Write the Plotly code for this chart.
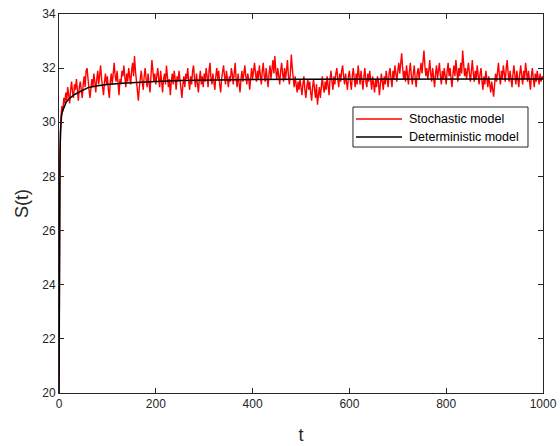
import plotly.graph_objects as go

# Deterministic model S(t)
t_det = [0, 0.5, 1, 1.5, 2, 3, 4, 5, 7, 10, 15, 20, 30, 40, 60, 80, 100, 130, 160, 200, 250, 300, 400, 500, 700, 1000]
s_det = [20, 23.5, 26.0, 27.6, 28.6, 29.6, 30.0, 30.2, 30.4, 30.55, 30.75, 30.85, 31.0, 31.1, 31.28, 31.35, 31.4, 31.44, 31.48, 31.51, 31.54, 31.56, 31.58, 31.59, 31.6, 31.6]

# Stochastic model S(t), sampled every 2 time units (read approximately)
s_sto = [
    20.0, 28.8, 30.2, 30.6, 30.4, 30.9, 30.7, 31.1, 30.8, 31.3, 31.0, 30.7, 31.2, 31.5, 31.1, 30.9, 31.4, 31.2, 31.6, 31.0, 30.8, 31.3, 31.5, 31.2, 30.9,
    31.4, 31.7, 31.3, 31.9, 32.0, 31.5, 31.2, 30.9, 31.4, 31.6, 31.3, 31.8, 31.5, 31.1, 31.6, 31.9, 31.4, 31.7, 32.1, 31.6, 31.3, 31.0, 31.5, 31.8, 31.4,
    31.7, 31.2, 30.9, 31.5, 31.8, 31.4, 32.0, 32.2, 31.7, 31.5, 31.9, 31.3, 31.0, 31.6, 31.4, 31.9, 31.7, 32.1, 31.6, 31.3, 31.8, 31.5, 32.0, 31.7, 31.4,
    31.9, 32.2, 31.7, 32.45, 31.9, 31.5, 31.2, 30.8, 31.3, 31.6, 31.9, 31.5, 31.2, 31.7, 32.0, 31.6, 31.3, 31.8, 31.4, 31.1, 31.7, 32.3, 31.9, 31.5, 31.8,
    31.4, 31.7, 32.0, 31.6, 31.3, 31.9, 31.5, 31.1, 31.6, 31.8, 31.4, 32.1, 31.7, 31.3, 31.6, 31.0, 31.5, 31.8, 31.4, 31.9, 31.6, 31.2, 31.7, 31.5, 31.9,
    31.5, 31.2, 30.9, 31.4, 31.7, 31.3, 31.8, 31.6, 32.0, 31.5, 31.2, 31.7, 31.4, 31.9, 32.1, 31.6, 31.3, 31.8, 31.5, 31.1, 31.6, 31.9, 31.4, 31.7, 31.3,
    31.8, 31.5, 32.0, 31.7, 31.3, 31.9, 32.2, 31.6, 31.4, 31.8, 31.5, 31.2, 31.7, 32.0, 31.6, 31.9, 31.4, 31.1, 31.6, 31.8, 32.1, 31.7, 31.4, 31.9, 31.6,
    31.3, 31.7, 31.5, 32.0, 31.8, 31.4, 31.9, 32.2, 31.6, 31.3, 31.8, 31.5, 31.1, 31.6, 31.9, 31.5, 31.8, 32.1, 31.7, 31.4, 31.8, 31.6, 31.2, 31.7, 32.0,
    31.6, 31.9, 32.2, 31.8, 31.5, 31.9, 31.6, 32.1, 31.8, 31.4, 31.9, 32.2, 31.7, 31.5, 32.0, 31.7, 31.3, 31.8, 32.1, 31.6, 31.9, 32.3, 31.8, 32.45, 31.9,
    31.6, 32.0, 31.7, 31.4, 31.9, 32.2, 31.8, 31.5, 32.0, 31.6, 31.9, 32.3, 31.7, 31.4, 31.8, 32.5, 32.0, 31.6, 31.3, 31.7, 31.4, 31.1, 31.5, 31.2, 31.6,
    31.3, 31.0, 31.4, 31.7, 31.2, 30.9, 31.3, 31.6, 31.2, 31.5, 31.1, 30.8, 31.3, 31.6, 31.2, 30.9, 31.4, 30.65, 31.0, 31.3, 30.9, 31.4, 31.7, 31.3, 31.1,
    31.5, 31.2, 31.7, 31.4, 31.0, 31.6, 31.9, 31.5, 31.2, 31.7, 31.4, 31.8, 32.0, 31.6, 31.3, 31.8, 31.5, 31.9, 32.1, 31.7, 31.4, 31.8, 31.5, 31.2, 31.7,
    31.9, 31.5, 31.2, 31.7, 32.0, 31.6, 31.3, 31.8, 31.4, 32.1, 31.7, 31.4, 31.9, 31.6, 31.2, 31.7, 32.0, 31.5, 31.3, 31.8, 31.5, 31.9, 31.6, 31.2, 31.7,
    31.4, 31.1, 31.6, 31.3, 31.7, 31.5, 31.0, 31.4, 31.8, 31.5, 31.2, 31.7, 31.4, 31.9, 31.6, 31.3, 31.8, 32.0, 31.6, 31.3, 31.9, 31.6, 32.1, 31.8, 31.5,
    31.9, 32.2, 31.8, 32.3, 32.55, 32.0, 31.6, 31.9, 31.5, 32.1, 31.8, 31.4, 31.9, 32.2, 31.7, 31.4, 31.8, 32.1, 31.6, 31.3, 31.8, 32.0, 31.6, 31.9, 32.2,
    31.8, 32.3, 32.65, 32.1, 31.7, 32.0, 31.6, 31.9, 32.3, 31.8, 31.5, 32.0, 31.7, 31.3, 31.8, 32.1, 31.6, 31.9, 32.2, 31.7, 31.4, 31.9, 31.6, 32.0, 31.7,
    31.4, 31.9, 32.2, 31.7, 32.0, 31.6, 31.3, 31.8, 32.1, 31.7, 32.3, 31.9, 31.5, 32.0, 31.7, 32.2, 31.8, 32.65, 32.1, 31.7, 32.0, 31.6, 31.9, 32.2, 31.8,
    31.5, 31.9, 32.3, 31.8, 31.5, 31.9, 31.6, 32.1, 31.7, 31.4, 31.8, 32.0, 31.5, 31.2, 31.7, 31.4, 31.9, 31.6, 31.3, 31.7, 31.4, 31.1, 31.5, 31.2, 30.95,
    31.4, 31.8, 31.5, 31.9, 32.2, 31.7, 31.4, 31.9, 31.6, 32.1, 31.8, 31.5, 32.0, 32.3, 31.8, 31.5, 31.9, 31.6, 31.3, 31.8, 32.1, 31.7, 31.4, 31.9, 31.6,
    31.3, 31.8, 32.1, 31.7, 31.4, 31.9, 31.6, 32.2, 31.8, 31.5, 31.9, 31.6, 31.2, 31.7, 32.0, 31.6, 31.3, 31.8, 31.5, 31.9, 31.6, 31.4, 31.8, 31.5, 31.7, 31.6,
]
dt_sto = 2
t_sto = [i * dt_sto for i in range(len(s_sto))]

x_ticks = [0, 200, 400, 600, 800, 1000]
y_ticks = [20, 22, 24, 26, 28, 30, 32, 34]
legend_names = ["Stochastic model", "Deterministic model"]
colors = ["#ff0000", "#000000"]

axis_col = "#262626"
font_fam = "Liberation Sans, Arial, Helvetica"
fig = go.Figure()
fig.add_trace(go.Scatter(x=t_sto, y=s_sto, mode="lines", name=legend_names[0],
                         line=dict(color=colors[0], width=1.4), showlegend=False))
fig.add_trace(go.Scatter(x=t_det, y=s_det, mode="lines", name=legend_names[1],
                         line=dict(color=colors[1], width=1.5), showlegend=False))

common = dict(showline=True, linecolor=axis_col, linewidth=1, mirror="ticks",
              ticks="inside", ticklen=5, tickcolor=axis_col, showgrid=False, zeroline=False,
              automargin=False,
              tickfont=dict(family=font_fam, size=12, color=axis_col))
fig.update_xaxes(range=[0, 1000], tickvals=x_ticks, title=dict(text="t", standoff=17,
                 font=dict(family=font_fam, size=18, color=axis_col)), **common)
fig.update_yaxes(range=[20, 34], tickvals=y_ticks, title=dict(text="S(t)", standoff=8,
                 font=dict(family=font_fam, size=18, color=axis_col)), **common)

# Legend drawn as a box with line samples and text labels (paper coordinates)
box_x0, box_x1, box_y0, box_y1 = 0.6074, 0.969, 0.649, 0.7546
fig.add_shape(type="rect", xref="paper", yref="paper", x0=box_x0, x1=box_x1, y0=box_y0, y1=box_y1,
              line=dict(color=axis_col, width=1), fillcolor="white", layer="above")
row_y = [0.7230, 0.6755]
for name, col, yy in zip(legend_names, colors, row_y):
    fig.add_shape(type="line", xref="paper", yref="paper", x0=0.6136, x1=0.7087, y0=yy, y1=yy,
                  line=dict(color=col, width=1.5), layer="above")
    fig.add_annotation(text=name, xref="paper", yref="paper", x=0.719, y=yy, xanchor="left",
                       yanchor="middle", showarrow=False,
                       font=dict(family=font_fam, size=12.5, color="#000000"))

fig.update_layout(
    width=560, height=446,
    margin=dict(l=59, r=17, t=14, b=53),
    paper_bgcolor="white", plot_bgcolor="white",
    showlegend=False,
)
fig.write_html("out.html")
